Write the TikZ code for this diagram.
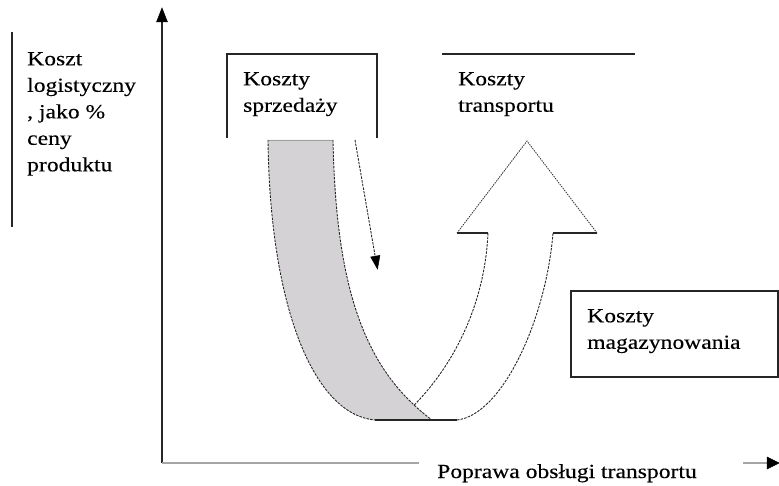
\documentclass[tikz,border=0pt]{standalone}
\usepackage{fontspec}
\setmainfont[FakeStretch=1.18,FakeBold=0.3]{Liberation Serif}
\definecolor{bandgray}{RGB}{212,210,212}
\definecolor{axisgray}{RGB}{165,165,165}
\begin{document}
\begin{tikzpicture}[x=1pt,y=-1pt,
  lbl/.style={font=\fontsize{20}{26.5}\selectfont, align=left, inner sep=0pt, anchor=north west},
  dashedge/.style={draw=black!85, line width=0.9pt, dash pattern=on 2.5pt off 1.2pt},
  dotedge/.style={draw=black!80, line width=0.8pt, dash pattern=on 1.5pt off 1pt},
  frame/.style={draw=black!85, line width=1.1pt},
  tipfill/.style={fill=black, draw=black, line width=0.5pt, line join=miter}]
\useasboundingbox (0,0) rectangle (779,486);

% y-axis label with bracket line
\node[lbl] (ylabel) at (27,52) {Koszt\\logistyczny\\, jako \%\\ceny\\produktu};
\coordinate (bt) at (12,32);
\coordinate (bb) at (12,227);
\draw[frame] (bt) -- (bb);

% axes
\coordinate (O) at (162,463);
\coordinate (ytip) at (162,8);
\coordinate (yb) at (162,21);
\coordinate (yl) at (156.5,22);
\coordinate (yr) at (167.5,22);
\draw[line width=1.3pt, draw=black!85] (O) -- (yb);
\fill[tipfill] (ytip) -- (yl) -- (yr) -- cycle;
\coordinate (xend) at (419,463);
\draw[axisgray, line width=1.3pt] (O) -- (xend);
\coordinate (xa) at (743,463);
\coordinate (xb) at (768,463);
\coordinate (xtip) at (779,463);
\coordinate (xt1) at (767,457);
\coordinate (xt2) at (767,469);
\draw[axisgray, line width=1.3pt] (xa) -- (xb);
\fill[tipfill] (xtip) -- (xt1) -- (xt2) -- cycle;
\node[font=\fontsize{20}{26.5}\selectfont, anchor=base west, inner sep=0pt] (xlabel) at (437,478) {Poprawa obsługi transportu};

% Koszty sprzedazy
\coordinate (s1) at (227,138);
\coordinate (s2) at (227,54);
\coordinate (s3) at (377,54);
\coordinate (s4) at (377,138);
\draw[frame] (s1) -- (s2) -- (s3) -- (s4);
\node[lbl] (sprz) at (243,72) {Koszty\\sprzedaży};

% Koszty transportu
\coordinate (t1) at (442,54);
\coordinate (t2) at (635,54);
\draw[frame] (t1) -- (t2);
\node[lbl] (trans) at (458,72) {Koszty\\transportu};

% Koszty magazynowania
\coordinate (m1) at (571,291);
\coordinate (m2) at (778,377);
\draw[frame] (m1) rectangle (m2);
\node[lbl] (mag) at (587,309) {Koszty\\magazynowania};

% white U-arrow
\coordinate (wb) at (457,420);
\coordinate (wr) at (553,233);
\coordinate (wrb) at (597,233);
\coordinate (wtip) at (527,141);
\coordinate (wlb) at (457,233);
\coordinate (wl) at (488,233);
\coordinate (wend) at (398,420);
\fill[white] (wb) .. controls (502,415) and (546,320) .. (wr) -- (wrb) -- (wtip) -- (wlb) -- (wl) .. controls (484,320) and (440,385) .. (wend) -- cycle;
\draw[dashedge] (wb) .. controls (502,415) and (546,320) .. (wr);
\draw[frame] (wr) -- (wrb);
\draw[dotedge] (wrb) -- (wtip) -- (wlb);
\draw[frame] (wlb) -- (wl);
\draw[dashedge] (wl) .. controls (484,320) and (440,385) .. (wend);

% grey band
\coordinate (g1) at (268,140);
\coordinate (g2) at (333,140);
\coordinate (g3) at (432,420);
\coordinate (g4) at (375,420);
\fill[bandgray] (g1) -- (g2) .. controls (336,290) and (365,370) .. (g3) -- (g4) .. controls (315,415) and (270,310) .. (g1) -- cycle;
\draw[bandgray!75!black, line width=0.8pt] (g1) -- (g2);
\draw[dashedge] (g2) .. controls (336,290) and (365,370) .. (g3);
\draw[dashedge] (g1) .. controls (270,310) and (315,415) .. (g4);
\draw[frame] (g4) -- (wb);

% straight dashed arrow
\coordinate (a1) at (355,140);
\coordinate (a3) at (375.3,257);
\coordinate (a2) at (377.5,269);
\coordinate (at1) at (379.9,255.4);
\coordinate (at2) at (370.7,257.0);
\draw[dashedge] (a1) -- (a3);
\fill[tipfill] (a2) -- (at1) -- (at2) -- cycle;
\end{tikzpicture}
\end{document}
